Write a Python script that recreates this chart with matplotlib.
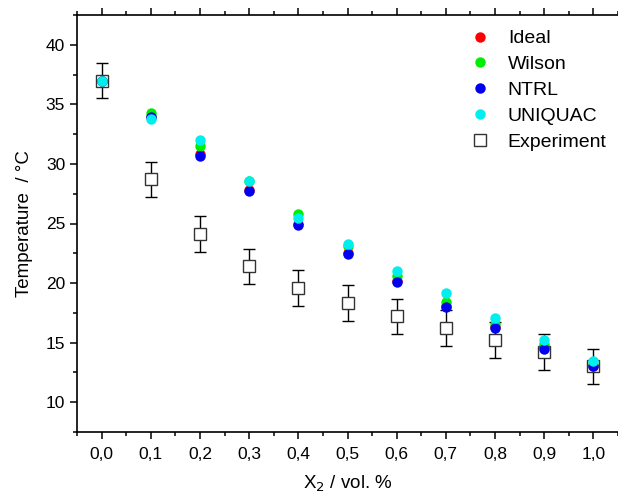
import matplotlib
matplotlib.use("Agg")
import matplotlib.pyplot as plt
from matplotlib.ticker import MultipleLocator, FuncFormatter
from matplotlib.lines import Line2D

plt.rcParams['font.family'] = ['Liberation Sans', 'DejaVu Sans']

x = [0.0, 0.1, 0.2, 0.3, 0.4, 0.5, 0.6, 0.7, 0.8, 0.9, 1.0]
ideal    = [37.0, 33.9, 30.8, 27.8, 25.0, 22.5, 20.2, 18.1, 16.3, 14.6, 13.0]
wilson   = [37.0, 34.3, 31.5, 28.6, 25.8, 23.1, 20.6, 18.4, 16.55, 14.9, 13.2]
ntrl     = [37.0, 33.9, 30.7, 27.7, 24.9, 22.4, 20.1, 18.0, 16.2, 14.5, 13.0]
uniquac  = [37.0, 33.8, 32.0, 28.55, 25.5, 23.3, 21.05, 19.2, 17.1, 15.2, 13.5]
experiment = [37.0, 28.7, 24.1, 21.4, 19.6, 18.3, 17.2, 16.2, 15.2, 14.2, 13.0]
exp_err = [1.5, 1.5, 1.5, 1.5, 1.5, 1.5, 1.5, 1.5, 1.5, 1.5, 1.5]

fig = plt.figure(figsize=(6.18, 5.0), dpi=100)
ax = fig.add_axes([77/618, 68/500, 1 - 77/618, 417/500])

ax.errorbar(x, experiment, yerr=exp_err, fmt='s', mfc='white', mec='#333333',
            mew=1.0, ms=8.5, ecolor='black', elinewidth=1.0, capsize=4.5,
            capthick=1.0, zorder=2)
ax.plot(x, ideal, 'o', color='#ff0000', ms=7.5, mec='none', zorder=3)
ax.plot(x, wilson, 'o', color='#00ee00', ms=7.5, mec='none', zorder=4)
ax.plot(x, ntrl, 'o', color='#0000ee', ms=7.5, mec='none', zorder=5)
ax.plot(x, uniquac, 'o', color='#00eeee', ms=7.5, mec='none', zorder=6)

ax.set_xlim(-0.05, 1.05)
ax.set_ylim(7.5, 42.5)
ax.xaxis.set_major_locator(MultipleLocator(0.1))
ax.xaxis.set_minor_locator(MultipleLocator(0.05))
ax.yaxis.set_major_locator(MultipleLocator(5))
ax.yaxis.set_minor_locator(MultipleLocator(2.5))
ax.xaxis.set_major_formatter(FuncFormatter(lambda v, p: f"{v:.1f}".replace('.', ',')))
ax.yaxis.set_major_formatter(FuncFormatter(lambda v, p: f"{v:.0f}"))

ax.spines['right'].set_visible(False)
for s in ['left', 'bottom', 'top']:
    ax.spines[s].set_linewidth(1.2)
ax.tick_params(axis='both', which='major', direction='out', length=5, width=1.1, labelsize=12.5)
ax.tick_params(axis='both', which='minor', direction='out', length=3, width=1.1)
ax.tick_params(axis='x', which='both', top=True, labeltop=False)
ax.tick_params(axis='x', which='major', pad=6)

ax.set_xlabel('X$_2$ / vol. %', fontsize=13.5, labelpad=8)
ax.set_ylabel('Temperature  / °C', fontsize=13.5, labelpad=9)

handles = [
    Line2D([], [], ls='none', marker='o', color='#ff0000', mec='none', ms=7.5),
    Line2D([], [], ls='none', marker='o', color='#00ee00', mec='none', ms=7.5),
    Line2D([], [], ls='none', marker='o', color='#0000ee', mec='none', ms=7.5),
    Line2D([], [], ls='none', marker='o', color='#00eeee', mec='none', ms=7.5),
    Line2D([], [], ls='none', marker='s', mfc='white', mec='#333333', ms=8.5),
]
labels = ['Ideal', 'Wilson', 'NTRL', 'UNIQUAC', 'Experiment']
ax.legend(handles, labels, loc='upper left', bbox_to_anchor=(0.692, 0.997), frameon=False,
          fontsize=14, handletextpad=0.7, labelspacing=0.42,
          handlelength=1.5, borderaxespad=0.3)

fig.savefig('out.png', dpi=100)
